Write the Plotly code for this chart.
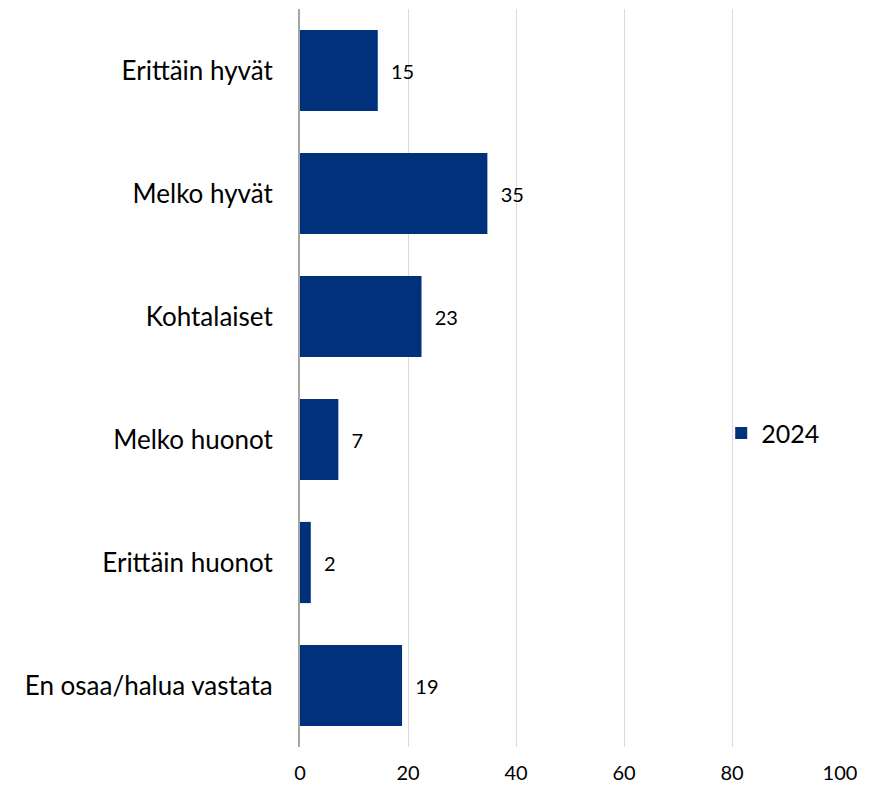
import plotly.graph_objects as go

categories = ["Erittäin hyvät", "Melko hyvät", "Kohtalaiset", "Melko huonot", "Erittäin huonot", "En osaa/halua vastata"]
values_2024 = [14.4, 34.7, 22.5, 7.1, 2.0, 18.9]
labels_2024 = ["15", "35", "23", "7", "2", "19"]
x_ticks = [0, 20, 40, 60, 80, 100]
series_name = "2024"

fig = go.Figure()
fig.add_trace(go.Bar(
    y=categories, x=values_2024, orientation="h", name=series_name,
    marker=dict(color="#00317A", line=dict(width=0)),
    text=["  " + t for t in labels_2024], textposition="outside",
    textfont=dict(size=20, color="#000000"), cliponaxis=False,
    showlegend=True,
))
fig.update_layout(
    width=869, height=779,
    margin=dict(l=292, r=37, t=1, b=40),
    paper_bgcolor="white", plot_bgcolor="white",
    font=dict(family="Lato, Open Sans, sans-serif", color="#000000"),
    bargap=0.34,
    showlegend=True,
    legend=dict(x=0.78, y=0.425, xanchor="left", yanchor="middle",
                font=dict(size=25), bgcolor="rgba(0,0,0,0)", itemwidth=30),
    xaxis=dict(range=[0, 100], tickvals=x_ticks, showgrid=True, gridcolor="#d9d9d9",
               gridwidth=1, zeroline=False, showline=False, tickfont=dict(size=20),
               ticks="", ticklabelstandoff=12, fixedrange=True),
    yaxis=dict(autorange="reversed", showline=True, linecolor="#a6a6a6", linewidth=2,
               tickfont=dict(size=26), ticks="", ticklabelstandoff=20, showgrid=False),
)
fig.write_html("out.html")
